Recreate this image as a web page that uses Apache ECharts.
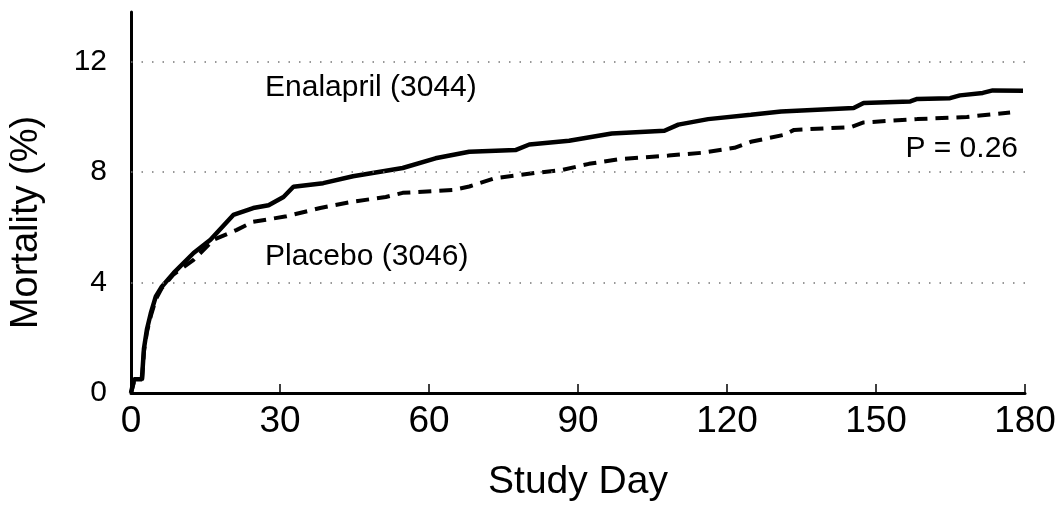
<!DOCTYPE html>
<html>
<head>
<meta charset="utf-8">
<script src="https://cdn.jsdelivr.net/npm/echarts@6/dist/echarts.min.js"></script>
<style>
  html, body { margin: 0; padding: 0; background: #fff; }
  #chart { width: 1060px; height: 516px; }
</style>
</head>
<body>
<div id="chart"></div>
<script>
// values (day, mortality %)
var enalaprilDays = [0, 0.6, 2.2, 2.6, 3.2, 4, 5, 6.2, 8.6, 12.6, 16, 20.6, 24.6, 27.7, 30.7, 32.7, 38.7, 44.7, 54.7, 61.3, 68.1, 77.4, 80.2, 88.2, 96.8, 107.4, 110.2, 116.2, 124.8, 130.9, 145.5, 147.5, 156.9, 158.3, 164.9, 166.9, 171.5, 173.5, 179.6];
var enalaprilMortality = [0, 0.5, 0.5, 1.6, 2.3, 2.9, 3.5, 3.85, 4.35, 5.07, 5.55, 6.45, 6.7, 6.8, 7.1, 7.47, 7.6, 7.85, 8.15, 8.5, 8.74, 8.8, 9.0, 9.14, 9.4, 9.5, 9.72, 9.92, 10.08, 10.2, 10.32, 10.5, 10.56, 10.65, 10.68, 10.78, 10.87, 10.96, 10.95];

var placeboDays = [0, 0.6, 2.2, 2.6, 3.2, 4, 5, 6.2, 8.6, 12.6, 16.6, 21.2, 24.6, 31.3, 38.1, 44.7, 51.3, 54.7, 64.7, 68.1, 73.3, 81.4, 86.8, 92.2, 98.2, 108.2, 114.9, 121.5, 124.8, 131.5, 133.5, 144.9, 147.5, 158.3, 168.3, 177];
var placeboMortality = [0, 0.4, 0.4, 1.5, 2.2, 2.8, 3.4, 3.8, 4.3, 4.82, 5.55, 5.9, 6.2, 6.4, 6.7, 6.93, 7.1, 7.25, 7.35, 7.48, 7.78, 7.97, 8.08, 8.3, 8.47, 8.6, 8.7, 8.88, 9.1, 9.35, 9.53, 9.63, 9.8, 9.92, 10.0, 10.16];

var xTicks = [0, 30, 60, 90, 120, 150, 180];
var yTicks = [0, 4, 8, 12];
var gridLevels = [4, 8, 12];

function zip(a, b) {
    var out = [];
    for (var i = 0; i < a.length; i++) out.push([a[i], b[i]]);
    return out;
}

window.onload = function () {
    var chart = echarts.init(document.getElementById('chart'));
    var font = 'Liberation Sans, Arial, Helvetica, sans-serif';

    var option = {
        animation: false,
        backgroundColor: '#fff',
        grid: { left: 127, right: 35, top: 12, bottom: 123 },
        xAxis: {
            type: 'value',
            min: 0,
            max: 180,
            interval: 30,
            name: 'Study Day',
            nameLocation: 'middle',
            nameGap: 70,
            nameTextStyle: { fontSize: 39, fontFamily: font, color: '#000' },
            axisLine: { lineStyle: { color: '#000', width: 3 } },
            axisTick: { inside: true, length: 9, lineStyle: { color: '#000', width: 1.5 } },
            axisLabel: {
                fontSize: 37, fontFamily: font, color: '#000', margin: 10,
                formatter: function (v) { return xTicks.indexOf(v) >= 0 ? v : ''; }
            },
            splitLine: { show: false }
        },
        yAxis: {
            type: 'value',
            min: 0,
            max: 13.8,
            interval: 4,
            name: 'Mortality (%)',
            nameLocation: 'middle',
            nameGap: 85,
            nameTextStyle: { fontSize: 38, fontFamily: font, color: '#000', padding: [0, 40, 0, 0] },
            axisLine: { show: true, lineStyle: { color: '#000', width: 3 } },
            axisTick: { show: false },
            axisLabel: {
                fontSize: 30, fontFamily: font, color: '#000', margin: 24,
                showMaxLabel: false,
                formatter: function (v) { return yTicks.indexOf(v) >= 0 ? v : ''; }
            },
            splitLine: { show: false }
        },
        graphic: [
            { type: 'text', x: 265, y: 88, style: { text: 'Enalapril (3044)', fontSize: 30, fontFamily: font, fill: '#000', verticalAlign: 'middle' } },
            { type: 'text', x: 265, y: 257, style: { text: 'Placebo (3046)', fontSize: 30, fontFamily: font, fill: '#000', verticalAlign: 'middle' } },
            { type: 'text', x: 1018, y: 149, style: { text: 'P = 0.26', fontSize: 30, fontFamily: font, fill: '#000', align: 'right', verticalAlign: 'middle' } }
        ],
        series: [
            {
                name: 'Placebo (3046)',
                type: 'line',
                symbol: 'none',
                data: zip(placeboDays, placeboMortality),
                lineStyle: { color: '#000', width: 4, type: [13, 8] },
                markLine: {
                    silent: true,
                    symbol: 'none',
                    label: { show: false },
                    lineStyle: { color: '#777', width: 1.5, type: [1.5, 9] },
                    data: gridLevels.map(function (v) { return { yAxis: v }; })
                },
                z: 2
            },
            {
                name: 'Enalapril (3044)',
                type: 'line',
                symbol: 'none',
                data: zip(enalaprilDays, enalaprilMortality),
                lineStyle: { color: '#000', width: 4.5 },
                z: 3
            }
        ]
    };

    chart.setOption(option);
};
</script>
</body>
</html>
